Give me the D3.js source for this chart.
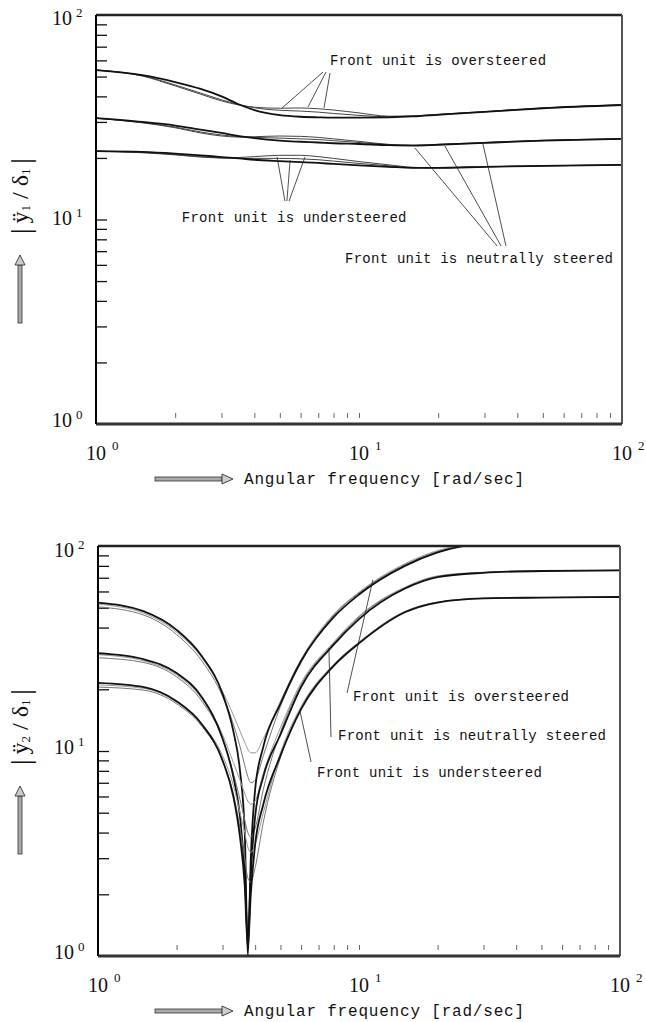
<!DOCTYPE html>
<html>
<head>
<meta charset="utf-8">
<script src="https://cdn.jsdelivr.net/npm/d3@7"></script>
<style>
  body { margin: 0; background: #fff; }
  svg { display: block; }
  .note { font-family: 'Liberation Mono', monospace; font-size: 14px; letter-spacing: 0.25px; fill: #111; }
  .title { font-family: 'Liberation Mono', monospace; font-size: 16px; letter-spacing: 0.8px; fill: #111; }
  .num { font-family: 'Liberation Serif', serif; fill: #111; }
</style>
</head>
<body>
<div id="chart"></div>
<script>
// ---- data: top panel |y1''/delta1| ----
const freqTop = [1, 1.5, 2, 2.5, 3, 3.5, 4, 5, 6, 7, 8, 10, 13, 16, 20, 30, 50, 100];
const topOverMain = [53.8, 50.8, 47, 43.5, 40, 36.5, 34.3, 32.4, 31.8, 31.6, 31.5, 31.5, 31.6, 31.9, 32.5, 33.6, 35, 36.3];
const topOverA = [53.8, 50.5, 45.5, 41.5, 38.5, 36.5, 35.2, 34.2, 33.9, 33.5, 33.0, 32.3, 31.8, 32, 32.6, 33.6, 35, 36.3];
const topOverB = [53.8, 50.3, 45, 41, 38, 36.3, 35.4, 35.0, 35.1, 34.8, 34.3, 33.2, 32.0, 32.1, 32.7, 33.7, 35.1, 36.4];
const topNeutralMain = [31.3, 30, 28.8, 27.5, 26.5, 25.6, 25, 24.3, 24, 23.8, 23.6, 23.4, 23.1, 23, 23.2, 23.7, 24.3, 24.8];
const topNeutralA = [31.3, 29.8, 28.3, 26.8, 25.9, 25.4, 25.2, 25, 24.8, 24.6, 24.3, 23.8, 23.2, 23, 23.2, 23.7, 24.3, 24.8];
const topNeutralB = [31.3, 29.7, 28.1, 26.5, 25.6, 25.3, 25.4, 25.6, 25.5, 25.2, 24.8, 24.1, 23.3, 23.1, 23.3, 23.8, 24.4, 24.8];
const topUnderMain = [21.6, 21.4, 21, 20.6, 20.2, 19.9, 19.6, 19.3, 19.1, 18.9, 18.7, 18.4, 18.1, 17.9, 17.9, 18.1, 18.3, 18.5];
const topUnderA = [21.6, 21.3, 20.8, 20.3, 20, 19.9, 19.9, 19.9, 19.8, 19.6, 19.3, 18.8, 18.3, 17.9, 17.9, 18.1, 18.3, 18.5];
const topUnderB = [21.6, 21.2, 20.7, 20.2, 20, 20.1, 20.3, 20.6, 20.6, 20.3, 19.9, 19.2, 18.5, 18, 17.9, 18.1, 18.3, 18.5];

// ---- data: bottom panel |y2''/delta1| ----
const freqBottom = [1, 1.5, 2, 2.5, 3, 3.3, 3.5, 3.65, 3.75, 3.85, 4, 4.3, 5, 6, 8, 10, 15, 20, 30, 50, 100];
const botOverMain = [53, 48, 39, 29, 19, 12.5, 8, 4, 1.0, 3, 6.5, 10.5, 17, 27.5, 45, 58, 80, 93, 104, 110, 112];
const botOverA = [52, 47, 38, 28.5, 19.5, 15, 12.5, 11, 10.2, 9.8, 9.8, 11.5, 17.5, 28, 46.5, 59.5, 82, 95, 105, 111, 112];
const botOverB = [50.5, 46, 37, 27.5, 18.5, 13.5, 10.5, 8.5, 7.5, 7, 7.2, 9.5, 16.5, 27, 46, 59, 81, 94, 104.5, 110.5, 112];
const botNeutralMain = [30, 28, 24, 18.3, 11.5, 7.5, 4.8, 2.5, 1.2, 2.5, 4.8, 7.5, 12, 20.5, 33, 44, 62, 70.5, 74, 75.5, 76];
const botNeutralA = [29.5, 27.5, 23.5, 18, 12, 8.8, 7.2, 6.2, 5.7, 5.5, 5.7, 7.8, 13, 21.5, 34, 45.5, 63, 71.5, 74.5, 75.8, 76.2];
const botNeutralB = [28.5, 27, 23, 17.5, 11.5, 7.8, 5.8, 4.6, 4, 3.8, 4.2, 6.5, 12.3, 21, 33.5, 45, 62.5, 71, 74.2, 75.6, 76.1];
const botUnderMain = [21.5, 20.5, 17.5, 13.5, 9, 6, 3.8, 2.2, 1.1, 2, 3.5, 5.5, 9.5, 16, 26, 33.5, 47.5, 53, 55.5, 56, 56.4];
const botUnderA = [21, 20.2, 17.3, 13.5, 9.5, 6.8, 5, 4, 3.4, 3.2, 3.5, 5, 9.8, 16.5, 26.5, 34, 48, 53.3, 55.6, 56.1, 56.4];
const botUnderB = [20.5, 19.8, 17, 13.2, 9, 6.2, 4.2, 3, 2.4, 2.3, 2.7, 4.5, 9.3, 16.2, 26.2, 33.8, 47.8, 53.2, 55.5, 56, 56.4];

// ---- ticks / labels ----
const decades = [0, 1, 2];
const minorTicks = [2, 3, 4, 5, 6, 7, 8, 9, 10, 20, 30, 40, 50, 60, 70, 80, 90];
const xTitle = 'Angular frequency [rad/sec]';
const noteTexts = ['Front unit is oversteered', 'Front unit is neutrally steered', 'Front unit is understeered'];

// annotation anchors in data units [freq, value]
const topNoteAt = [[7.76, 56.9], [8.85, 6.13], [2.12, 9.72]];
const topNoteLeaders = [
    [[[7.30, 52.6], [5.10, 35.1]], [[7.49, 52.6], [6.40, 35.5]], [[7.76, 52.0], [7.36, 35.1]]],
    [[[33.5, 7.42], [16.3, 22.4]], [[34.7, 7.42], [21.2, 22.9]], [[36.2, 7.42], [29.6, 23.4]]],
    [[[5.23, 12.3], [4.88, 20.2]], [[5.32, 12.3], [5.47, 19.5]], [[5.42, 12.3], [6.23, 20.2]]]
];
const botNoteAt = [[9.48, 17.5], [8.31, 11.3], [6.91, 7.47]];
const botNoteLeaders = [
    [[[9.0, 19.2], [11.3, 68.3]]],
    [[[7.67, 31.8], [7.81, 11.7]]],
    [[[5.94, 15.7], [6.55, 8.84]]]
];

const width = 646, height = 1022;

const svg = d3.select('#chart').append('svg')
    .attr('width', width)
    .attr('height', height);

const drawPanel = (cfg) => {
    const x = d3.scaleLog().domain([1, 100]).range([cfg.left, cfg.right]);
    const y = d3.scaleLog().domain([1, 100]).range([cfg.bottom, cfg.top]);
    const g = svg.append('g');

    g.append('clipPath').attr('id', cfg.id + '-clip')
        .append('rect')
        .attr('x', cfg.left).attr('y', cfg.top)
        .attr('width', cfg.right - cfg.left).attr('height', cfg.bottom - cfg.top);

    //y ticks, drawn inward from the left axis
    g.append('g')
        .attr('transform', `translate(${cfg.left},0)`)
        .call(d3.axisRight(y).tickValues(minorTicks).tickSize(11).tickFormat(''))
        .call(a => {
            a.select('.domain').remove();
            a.selectAll('line').attr('stroke', '#111').attr('stroke-width', 1.3);
        });

    //small floating x ticks above the bottom axis
    g.append('g')
        .attr('transform', `translate(0,${cfg.bottom - 6})`)
        .call(d3.axisTop(x).tickValues(minorTicks).tickSize(5).tickFormat(''))
        .call(a => {
            a.select('.domain').remove();
            a.selectAll('line').attr('stroke', '#666').attr('stroke-width', 1);
        });

    //curves
    const line = d3.line()
        .x((d, i) => x(cfg.freq[i]))
        .y(d => y(d))
        .curve(d3.curveMonotoneX);

    g.append('g')
        .attr('clip-path', `url(#${cfg.id}-clip)`)
        .selectAll('path')
        .data(cfg.series)
        .join('path')
        .attr('d', d => line(d.values))
        .attr('fill', 'none')
        .attr('stroke', d => d.color)
        .attr('stroke-width', d => d.width);

    //frame
    g.append('line').attr('x1', cfg.left).attr('x2', cfg.right).attr('y1', cfg.top).attr('y2', cfg.top)
        .attr('stroke', '#222').attr('stroke-width', 2.5);
    g.append('line').attr('x1', cfg.right).attr('x2', cfg.right).attr('y1', cfg.top).attr('y2', cfg.bottom)
        .attr('stroke', '#555').attr('stroke-width', 2);
    g.append('line').attr('x1', cfg.left).attr('x2', cfg.right).attr('y1', cfg.bottom).attr('y2', cfg.bottom)
        .attr('stroke', '#333').attr('stroke-width', 3);
    g.append('line').attr('x1', cfg.left).attr('x2', cfg.left).attr('y1', cfg.top).attr('y2', cfg.bottom)
        .attr('stroke', '#000').attr('stroke-width', 2);

    //decade labels
    decades.forEach(k => {
        const ty = g.append('text').attr('class', 'num')
            .attr('x', cfg.left - 44).attr('y', y(Math.pow(10, k)) + cfg.labelShift[k])
            .attr('font-size', 20);
        ty.append('tspan').text('10');
        ty.append('tspan').attr('font-size', 13).attr('dx', 4).attr('dy', -8).text(k);

        const tx = g.append('text').attr('class', 'num')
            .attr('x', x(Math.pow(10, k)) - 10).attr('y', cfg.bottom + 36)
            .attr('font-size', 20);
        tx.append('tspan').text('10');
        tx.append('tspan').attr('font-size', 13).attr('dx', 6).attr('dy', -10).text(k);
    });

    //x title with arrow
    const ay = cfg.bottom + 55;
    g.append('rect').attr('x', 155).attr('y', ay - 2).attr('width', 67).attr('height', 4)
        .attr('fill', '#aaa').attr('stroke', '#333').attr('stroke-width', 0.8);
    g.append('path').attr('d', `M222,${ay - 5}L233,${ay}L222,${ay + 5}Z`)
        .attr('fill', '#ccc').attr('stroke', '#333').attr('stroke-width', 0.9);
    g.append('text').attr('class', 'title')
        .attr('x', 244).attr('y', ay + 5)
        .text(xTitle);

    //y title with arrow
    const yl = g.append('text').attr('class', 'num')
        .attr('transform', `translate(20,${cfg.top + 181}) rotate(-90)`)
        .attr('text-anchor', 'middle')
        .attr('dominant-baseline', 'central')
        .attr('font-size', 24);
    yl.append('tspan').attr('font-size', 28).text('|');
    yl.append('tspan').text('\u2009ÿ');
    yl.append('tspan').attr('font-size', 13).attr('dy', 5).text(cfg.sub);
    yl.append('tspan').attr('dy', -5).text(' / δ');
    yl.append('tspan').attr('font-size', 13).attr('dy', 5).text('1');
    yl.append('tspan').attr('dy', -5).text('\u2009');
    yl.append('tspan').attr('font-size', 28).text('|');

    const tip = cfg.top + 240, tail = cfg.top + 308;
    g.append('rect').attr('x', 18).attr('y', tip + 10).attr('width', 4).attr('height', tail - tip - 10)
        .attr('fill', '#aaa').attr('stroke', '#333').attr('stroke-width', 0.8);
    g.append('path').attr('d', `M15,${tip + 10}L20,${tip}L25,${tip + 10}Z`)
        .attr('fill', '#ccc').attr('stroke', '#333').attr('stroke-width', 0.9);

    //annotations
    const notes = g.append('g');
    cfg.leaders.forEach(group => group.forEach(seg => {
        notes.append('line')
            .attr('x1', x(seg[0][0])).attr('y1', y(seg[0][1]))
            .attr('x2', x(seg[1][0])).attr('y2', y(seg[1][1]))
            .attr('stroke', '#222').attr('stroke-width', 0.8);
    }));
    notes.selectAll('text.note')
        .data(noteTexts)
        .join('text')
        .attr('class', 'note')
        .attr('x', (d, i) => x(cfg.noteAt[i][0]))
        .attr('y', (d, i) => y(cfg.noteAt[i][1]))
        .text(d => d);
};

const mainW = 1.8, thinW = 1;

drawPanel({
    id: 'top', left: 96, right: 622, top: 15, bottom: 424, sub: '1',
    labelShift: [3, 5, 10],
    freq: freqTop,
    series: [
        { values: topOverA, color: '#444', width: thinW },
        { values: topOverB, color: '#444', width: thinW },
        { values: topOverMain, color: '#111', width: mainW },
        { values: topNeutralA, color: '#444', width: thinW },
        { values: topNeutralB, color: '#444', width: thinW },
        { values: topNeutralMain, color: '#111', width: mainW },
        { values: topUnderA, color: '#444', width: thinW },
        { values: topUnderB, color: '#444', width: thinW },
        { values: topUnderMain, color: '#111', width: mainW }
    ],
    noteAt: topNoteAt,
    leaders: topNoteLeaders
});

drawPanel({
    id: 'bot', left: 98, right: 620, top: 546, bottom: 956, sub: '2',
    labelShift: [3, 3, 11],
    freq: freqBottom,
    series: [
        { values: botOverA, color: '#999', width: thinW },
        { values: botOverB, color: '#777', width: thinW },
        { values: botOverMain, color: '#111', width: mainW },
        { values: botNeutralA, color: '#999', width: thinW },
        { values: botNeutralB, color: '#777', width: thinW },
        { values: botNeutralMain, color: '#111', width: mainW },
        { values: botUnderA, color: '#999', width: thinW },
        { values: botUnderB, color: '#777', width: thinW },
        { values: botUnderMain, color: '#111', width: mainW }
    ],
    noteAt: botNoteAt,
    leaders: botNoteLeaders
});
</script>
</body>
</html>
